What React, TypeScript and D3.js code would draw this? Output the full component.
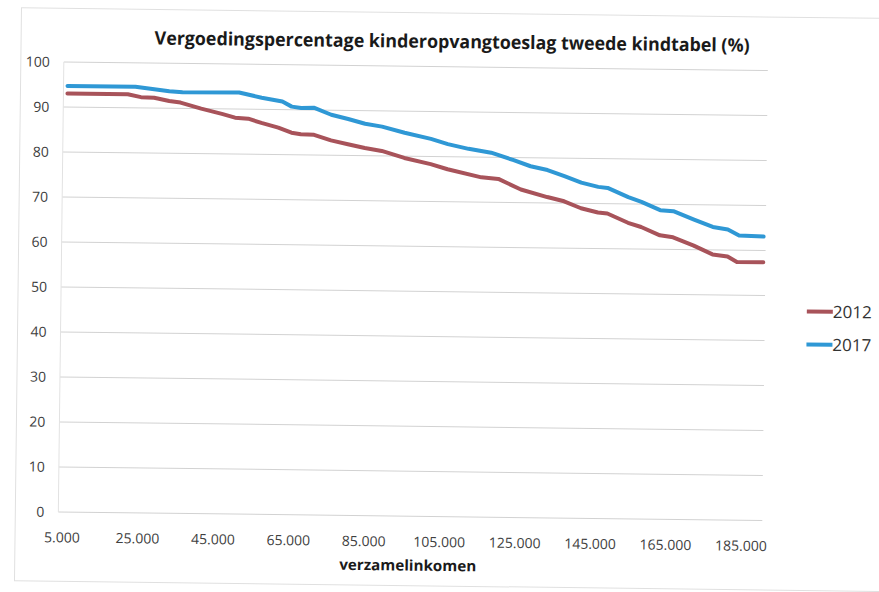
import React from "react";
import * as d3 from "d3";

const title = "Vergoedingspercentage kinderopvangtoeslag tweede kindtabel (%)";
const xTitle = "verzamelinkomen";
const seriesNames = ["2012", "2017"];
const yTicks = [0, 10, 20, 30, 40, 50, 60, 70, 80, 90, 100];
const xTicks = [5000, 25000, 45000, 65000, 85000, 105000, 125000, 145000, 165000, 185000];

const incomes2012 = [5000, 21000, 24500, 28000, 32000, 35000, 40500, 46000, 49500, 53000, 56500, 61000, 64500, 67000, 70500, 75000, 79500, 84000, 88500, 94500, 101500, 106000, 115000, 119500, 125500, 132500, 137000, 141500, 146000, 148500, 154000, 157500, 162500, 166000, 171500, 176500, 180500, 183000, 190000];
const values2012 = [93.0, 93.0, 92.4, 92.3, 91.6, 91.3, 90.0, 88.9, 88.1, 87.9, 87.0, 86.0, 84.9, 84.6, 84.5, 83.3, 82.5, 81.7, 81.1, 79.6, 78.3, 77.2, 75.5, 75.2, 72.9, 71.3, 70.4, 68.9, 68.0, 67.8, 65.8, 64.9, 63.1, 62.7, 60.9, 59.0, 58.6, 57.4, 57.4];

const incomes2017 = [5000, 23000, 32000, 35500, 50500, 56500, 62000, 64500, 67000, 70500, 75000, 79500, 84000, 88500, 94500, 101500, 106000, 111500, 117500, 123500, 128000, 132500, 137000, 141500, 146000, 148500, 154000, 157500, 162500, 166000, 171500, 176500, 180500, 183500, 190000];
const values2017 = [94.7, 94.7, 93.8, 93.6, 93.7, 92.6, 91.8, 90.7, 90.4, 90.5, 89.0, 88.1, 87.1, 86.5, 85.2, 83.9, 82.8, 81.8, 81.0, 79.4, 78.1, 77.3, 76.0, 74.6, 73.7, 73.5, 71.5, 70.5, 68.7, 68.5, 66.7, 65.1, 64.6, 63.3, 63.1];

const colors = ["#a8535a", "#2f98d5"];
const FONT = "'Open Sans', 'Noto Sans', sans-serif";

export default function App() {
  const W = 879;
  const H = 592;
  const plotLeft = 61;
  const plotRight = 765;
  const x = d3.scaleLinear().domain([5000, 185000]).range([65, 744]);
  const y = d3.scaleLinear().domain([0, 100]).range([516.6, 66.6]);
  const fmt = (v: number) => d3.format(",")(v).replace(/,/g, ".");

  const line = d3
    .line<[number, number]>()
    .x((d) => x(d[0]))
    .y((d) => y(d[1]));

  const s2012: [number, number][] = incomes2012.map((v, i) => [v, values2012[i]]);
  const s2017: [number, number][] = incomes2017.map((v, i) => [v, values2017[i]]);
  const series = [s2012, s2017];

  return (
    <svg
      width={W}
      height={H}
      style={{ position: "absolute", left: 0, top: 0, background: "#fff" }}
    >
      <rect x={0} y={0} width={W} height={H} fill="#fff" />
      <g transform="rotate(0.7 440 296)">
        <rect x={18} y={13} width={870} height={573} fill="none" stroke="#e0e0e0" strokeWidth={1} />
        <text
          x={449}
          y={48}
          textAnchor="middle"
          fontFamily={FONT}
          fontWeight="bold"
          fontSize={18.5}
          fill="#1a1a1a"
          textLength={595}
          lengthAdjust="spacingAndGlyphs"
        >
          {title}
        </text>
        {yTicks.map((t) => (
          <g key={t}>
            <line x1={plotLeft} x2={plotRight} y1={y(t)} y2={y(t)} stroke="#d2d2d2" strokeWidth={1} />
            <text
              x={47}
              y={y(t)}
              dy="0.36em"
              textAnchor="end"
              fontFamily={FONT}
              fontSize={14}
              fill="#404040"
            >
              {t}
            </text>
          </g>
        ))}
        <line x1={plotLeft} x2={plotLeft} y1={y(100)} y2={y(0)} stroke="#e2e2e2" strokeWidth={1} />
        {xTicks.map((t) => (
          <text
            key={t}
            x={x(t)}
            y={547}
            textAnchor="middle"
            fontFamily={FONT}
            fontSize={14}
            fill="#404040"
          >
            {fmt(t)}
          </text>
        ))}
        <text
          x={411}
          y={571}
          textAnchor="middle"
          fontFamily={FONT}
          fontWeight="bold"
          fontSize={15}
          fill="#1a1a1a"
          textLength={137}
          lengthAdjust="spacingAndGlyphs"
        >
          {xTitle}
        </text>
        {series.map((s, i) => (
          <path
            key={i}
            d={line(s) || ""}
            fill="none"
            stroke={colors[i]}
            strokeWidth={4}
            strokeLinejoin="round"
            strokeLinecap="round"
          />
        ))}
        {seriesNames.map((n, i) => (
          <g key={n} transform={`translate(0, ${307 + i * 33})`}>
            <line x1={807} x2={833} y1={0} y2={0} stroke={colors[i]} strokeWidth={4} />
            <text x={833} y={0} dy="0.36em" fontFamily={FONT} fontSize={17} fill="#333">
              {n}
            </text>
          </g>
        ))}
      </g>
    </svg>
  );
}
